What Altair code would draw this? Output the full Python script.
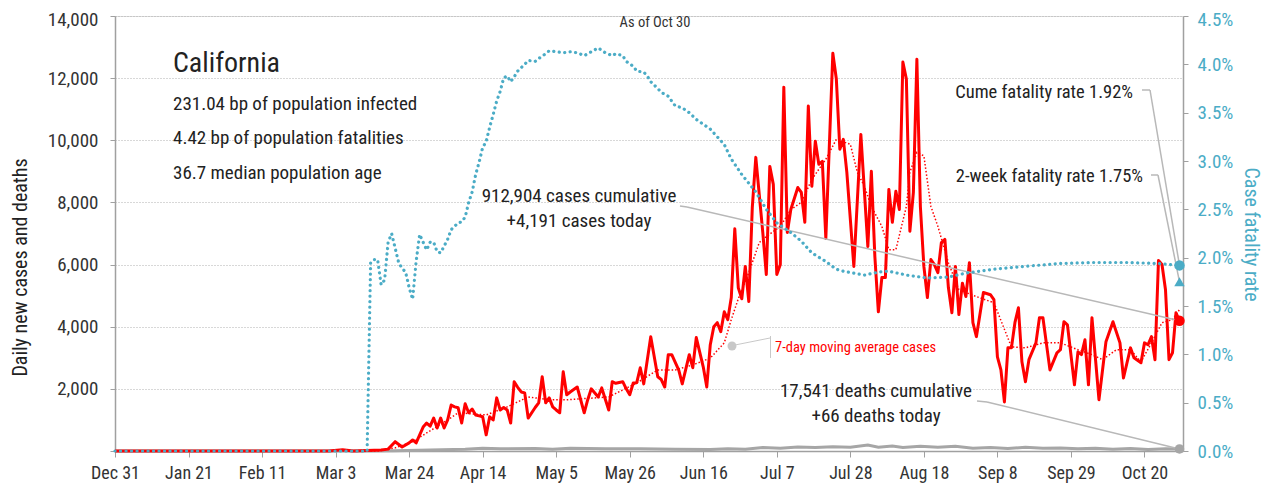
import altair as alt
import pandas as pd

FONT = "Roboto Condensed, Liberation Sans Narrow, DejaVu Sans Condensed, sans-serif"
RED = "#ff0000"
BLUE = "#4bacc6"
GREY = "#a6a6a6"
AXIS_GREY = "#a0a0a0"
INK = "#222222"

# ---------------- data (day = days since Dec 31, 2019) ----------------
tick_labels = ["Dec 31", "Jan 21", "Feb 11", "Mar 3", "Mar 24", "Apr 14", "May 5",
               "May 26", "Jun 16", "Jul 7", "Jul 28", "Aug 18", "Sep 8", "Sep 29", "Oct 20"]
tick_days = [0, 21, 42, 63, 84, 105, 126, 147, 168, 189, 210, 231, 252, 273, 294]
left_ticks = [0, 2000, 4000, 6000, 8000, 10000, 12000, 14000]
right_ticks = [0.0, 0.5, 1.0, 1.5, 2.0, 2.5, 3.0, 3.5, 4.0, 4.5]

case_days = [0, 61, 65, 68, 72, 76, 78, 80, 82, 84, 85, 86, 88, 89, 90, 91, 92, 93, 94, 95,
             96, 97, 98, 99, 100, 101, 102, 103, 104, 105, 106, 107, 108, 109, 110, 111, 112,
             113, 114, 115, 116, 117, 118, 120, 121, 122, 123, 124, 125, 126, 127, 128, 129,
             130, 131, 132, 134, 135, 136, 138, 139, 141, 142, 143, 145, 146, 147, 148, 149,
             150, 151, 153, 155, 156, 157, 158, 159, 161, 162, 164, 165, 166, 168, 169, 170,
             171, 172, 173, 174, 175, 176, 177, 178, 179, 180, 181, 182, 183, 185, 186, 187,
             188, 189, 190, 191, 192, 193, 195, 196, 197, 198, 199, 200, 201, 202, 203, 205,
             206, 207, 208, 209, 211, 213, 215, 216, 217, 218, 219, 220, 221, 222, 223, 224,
             225, 226, 227, 228, 229, 230, 231, 232, 233, 234, 235, 236, 237, 238, 239, 240,
             241, 242, 243, 244, 245, 246, 248, 250, 251, 252, 253, 254, 255, 256, 257, 258,
             259, 260, 261, 263, 264, 265, 267, 269, 270, 271, 272, 274, 275, 276, 277, 278,
             279, 281, 283, 285, 287, 288, 290, 291, 293, 294, 295, 296, 297, 298, 299, 300,
             301, 302, 303, 304]
case_values = [0, 0, 40, 0, 20, 30, 60, 300, 130, 260, 355, 260, 770, 900, 800, 1060, 740, 1060, 740, 1000,
               1480, 1420, 1390, 900, 1520, 1230, 1350, 1160, 1130, 1100, 520, 1100, 1000, 1710, 1320, 1400, 1320,
               900, 2230, 2050, 1900, 1870, 1060, 1400, 1550, 2390, 1550, 1710, 1420, 1320, 1230, 2550, 1810,
               1900, 1980, 2060, 1230, 1650, 2000, 1740, 2030, 1320, 2230, 2180, 2230, 2000, 1810, 2190, 2200,
               2680, 2160, 3680, 2390, 2300, 2060, 3100, 3100, 2600, 2160, 3100, 2680, 3650, 2700, 2060, 3420,
               4000, 4130, 3840, 4480, 4230, 4940, 7150, 5250, 4900, 5940, 4810, 7840, 9450, 7030, 5680, 9160,
               8580, 5680, 6000, 11710, 7030, 7770, 8480, 8320, 7360, 11100, 8520, 9970, 9230, 9320, 6840, 12800,
               11970, 9710, 10030, 8970, 5940, 10190, 6580, 9000, 6260, 4480, 5580, 5580, 8420, 7360, 8360, 7770,
               12520, 11970, 7070, 8320, 12610, 7870, 5940, 4940, 6160, 6000, 5740, 6710, 6810, 5260, 4450, 5940,
               4390, 5400, 4970, 6060, 4130, 3680, 5100, 5030, 4870, 3030, 2610, 1580, 3320, 3320, 4130, 4610,
               2870, 2230, 2940, 3480, 4290, 4290, 2610, 3160, 3260, 4160, 4060, 2130, 3190, 3100, 3580, 2130,
               4290, 1650, 3520, 4160, 3480, 2350, 3320, 3000, 2840, 3480, 3420, 3680, 2940, 6130, 6000, 5190,
               2940, 3160, 4450, 4191]

ma_days = [0, 75, 80, 85, 89, 95, 98, 106, 112, 118, 124, 129, 136, 141, 149, 155, 160, 165, 170, 174,
           176, 178, 181, 184, 186, 190, 193, 196, 199, 203, 206, 210, 212, 214, 216, 219, 221, 223, 226,
           227, 229, 231, 233, 235, 238, 241, 246, 251, 256, 260, 265, 270, 275, 279, 282, 286, 290, 293,
           296, 299, 302, 304]
ma_values = [0, 0, 100, 300, 580, 1000, 1230, 1160, 1420, 1740, 1650, 1650, 1700, 1740, 2190, 2610, 2610,
             2770, 2990, 3480, 4230, 4900, 5740, 6710, 6900, 7230, 7770, 8000, 8740, 9390, 10030, 9870, 8970,
             8520, 7870, 7230, 6480, 6480, 7870, 8970, 9610, 9500, 7870, 7230, 6060, 5190, 4970, 4770, 3350,
             3320, 3480, 3480, 3260, 3100, 2940, 3260, 3260, 2870, 3480, 4130, 4230, 4550]

death_days = [0, 72, 80, 90, 100, 105, 110, 120, 125, 130, 140, 150, 160, 170, 175, 180, 185, 190, 195,
              200, 205, 210, 215, 218, 222, 225, 230, 235, 240, 245, 250, 255, 260, 265, 270, 275, 280,
              285, 290, 295, 300, 304]
death_values = [0, 0, 10, 30, 60, 90, 70, 80, 60, 90, 70, 70, 60, 50, 70, 60, 110, 90, 130, 110, 140, 120,
                190, 120, 160, 110, 150, 120, 150, 90, 110, 80, 120, 90, 100, 70, 90, 60, 80, 50, 70, 66]

rate_days = [0, 72, 73, 74, 75, 76, 77, 78, 79, 80, 81, 82, 83, 84, 85, 86, 87, 88, 89, 90, 91, 92, 93, 94,
             95, 96, 98, 99, 100, 101, 102, 103, 104, 105, 106, 107, 108, 109, 110, 111, 112, 113, 114, 115,
             117, 118, 120, 121, 123, 124, 126, 128, 130, 132, 134, 136, 137, 138, 140, 142, 143, 145, 146,
             148, 149, 151, 152, 153, 155, 156, 158, 159, 160, 162, 164, 166, 170, 174, 176, 179, 183, 186,
             189, 193, 196, 199, 203, 206, 208, 214, 218, 221, 226, 232, 238, 243, 251, 260, 270, 279, 289,
             298, 304]
rate_values = [0.0, 0.0, 1.95, 1.98, 1.98, 1.72, 1.77, 2.16, 2.25, 2.10, 1.95, 1.89, 1.85, 1.69, 1.57, 1.96,
               2.24, 2.16, 2.08, 2.16, 2.16, 2.06, 2.05, 2.12, 2.19, 2.29, 2.36, 2.37, 2.42, 2.57, 2.68, 2.86,
               2.99, 3.14, 3.20, 3.35, 3.48, 3.62, 3.72, 3.86, 3.88, 3.82, 3.87, 3.93, 4.00, 4.04, 4.03, 4.06,
               4.11, 4.14, 4.13, 4.12, 4.13, 4.12, 4.09, 4.13, 4.15, 4.17, 4.12, 4.09, 4.11, 4.09, 4.03, 3.98,
               3.93, 3.92, 3.88, 3.82, 3.75, 3.71, 3.67, 3.62, 3.57, 3.55, 3.50, 3.43, 3.33, 3.17, 3.02, 2.86,
               2.68, 2.50, 2.36, 2.26, 2.17, 2.05, 1.96, 1.88, 1.86, 1.82, 1.85, 1.86, 1.82, 1.79, 1.80, 1.84,
               1.88, 1.91, 1.94, 1.95, 1.95, 1.94, 1.92]

cume_rate = 1.92
twoweek_rate = 1.75
title_lines = ["231.04 bp of population infected", "4.42 bp of population fatalities",
               "36.7 median population age"]

# ---------------- frames ----------------
cases = pd.DataFrame({"day": case_days, "value": case_values})
ma = pd.DataFrame({"day": ma_days, "value": ma_values})
deaths = pd.DataFrame({"day": death_days, "value": death_values})
rate = pd.DataFrame({"day": rate_days, "value": rate_values})
last_case = cases.tail(1)
last_death = deaths.tail(1)
cume_df = pd.DataFrame({"day": [rate_days[-1]], "value": [cume_rate]})
two_df = pd.DataFrame({"day": [rate_days[-1]], "value": [twoweek_rate]})

W, H = 1068, 435

label_arr = "[" + ",".join("'%s'" % t for t in tick_labels) + "]"
x_axis = alt.Axis(values=tick_days, labelExpr=label_arr + "[round(datum.value/21)]", grid=False,
                  labelOverlap=False, labelBound=False, labelFlush=False,
                  domainColor=AXIS_GREY, domainWidth=1.5, tickColor=AXIS_GREY, tickSize=6,
                  labelFont=FONT, labelFontSize=18, labelColor="#333", labelPadding=7)
xs = alt.Scale(domain=[0, 305], nice=False, zero=False)

left_axis = alt.Axis(values=left_ticks, labelExpr="datum.value == 0 ? '' : format(datum.value, ',')",
                     grid=True, gridDash=[1, 2], gridColor="#b0b0b0", gridWidth=1,
                     labelOverlap=False,
                     domainColor=AXIS_GREY, domainWidth=1.5, tickColor=AXIS_GREY, tickSize=5,
                     labelPadding=12, labelFont=FONT, labelFontSize=19, labelColor="#333",
                     labelOffset={"condition": {"test": "datum.value == 14000", "value": 3}, "value": 0},
                     title="Daily new cases and deaths", titleFont=FONT, titleFontSize=20,
                     titleFontWeight="normal", titleColor=INK, titleX=-95, titleY=251,
                     titleAngle=-90, titleAlign="center", titleBaseline="middle")
ls = alt.Scale(domain=[0, 14000], nice=False)

right_axis = alt.Axis(orient="right", values=right_ticks, labelExpr="format(datum.value, '.1f') + '%'",
                      grid=False, labelOverlap=False,
                      domainColor=AXIS_GREY, domainWidth=1.5, tickColor=AXIS_GREY, tickSize=5,
                      labelPadding=9, labelFont=FONT, labelFontSize=19, labelColor=BLUE,
                      labelOffset={"condition": {"test": "datum.value == 4.5", "value": 3}, "value": 0},
                      title="Case fatality rate", titleFont=FONT, titleFontSize=20,
                      titleFontWeight="normal", titleColor=BLUE, titleX=67, titleY=218,
                      titleAngle=90, titleAlign="center", titleBaseline="middle")
rs = alt.Scale(domain=[0, 4.5], nice=False)


def X():
    return alt.X("day:Q", scale=xs, axis=x_axis, title=None)


def YL():
    return alt.Y("value:Q", scale=ls, axis=left_axis)


def YR():
    return alt.Y("value:Q", scale=rs, axis=right_axis)


def note(text, x, y, size=18.5, align="left", color=INK):
    return alt.Chart(pd.DataFrame({"t": [text]})).mark_text(
        align=align, baseline="alphabetic", fontSize=size, font=FONT, color=color
    ).encode(x=alt.value(x), y=alt.value(y), text="t:N")


def seg(x1, y1, x2, y2, color="#b8b8b8", w=1.5):
    return alt.Chart(pd.DataFrame({"k": [0]})).mark_rule(color=color, strokeWidth=w).encode(
        x=alt.value(x1), y=alt.value(y1), x2=alt.value(x2), y2=alt.value(y2))


death_line = alt.Chart(deaths).mark_line(color=GREY, strokeWidth=3).encode(x=X(), y=YL())
ma_line = alt.Chart(ma).mark_line(color=RED, strokeWidth=1.5, strokeDash=[1.5, 2]).encode(x=X(), y=YL())
case_line = alt.Chart(cases).mark_line(color=RED, strokeWidth=3, strokeJoin="round").encode(x=X(), y=YL())

case_conn = alt.Chart(last_case).mark_rule(color="#b8b8b8", strokeWidth=1.5).encode(
    x=X(), y=YL(), x2=alt.value(572), y2=alt.value(191))
death_conn = alt.Chart(last_death).mark_rule(color="#b8b8b8", strokeWidth=1.5).encode(
    x=X(), y=YL(), x2=alt.value(872), y2=alt.value(386))
case_dot = alt.Chart(last_case).mark_circle(color=RED, size=110, opacity=1).encode(x=X(), y=YL())
death_dot = alt.Chart(last_death).mark_circle(color=GREY, size=90, opacity=1).encode(x=X(), y=YL())

ma_pointer = alt.Chart(pd.DataFrame({"k": [0]})).mark_circle(color="#c8c8c8", size=80, opacity=1).encode(
    x=alt.value(617), y=alt.value(330))

left = alt.layer(
    death_line, ma_line, case_line,
    seg(565, 190, 572, 191), case_conn,
    seg(862, 385, 872, 386), death_conn,
    case_dot, death_dot,
    ma_pointer, seg(620, 329, 655, 322, color="#c8c8c8", w=1), seg(655.5, 320, 655.5, 342, color="#c8c8c8", w=1),
    note("7-day moving average cases", 660, 336, size=14.5, color=RED),
    note("California", 58, 56, size=28),
    note(title_lines[0], 58, 94, size=19),
    note(title_lines[1], 58, 128, size=19),
    note(title_lines[2], 58, 163, size=19),
    note("As of Oct 30", 540, 11, size=14.5, align="center", color="#333"),
    note("912,904 cases cumulative", 464, 186, size=19, align="center"),
    note("+4,191 cases today", 464, 211, size=19, align="center"),
    note("17,541 deaths cumulative", 761, 381, size=19, align="center"),
    note("+66 deaths today", 761, 406, size=19, align="center"),
    note("Cume fatality rate 1.92%", 1018, 82, align="right"),
    note("2-week fatality rate 1.75%", 1028, 166, align="right"),
    seg(1027, 74, 1035, 74),
    seg(1036, 159, 1043, 159),
)

rate_line = alt.Chart(rate).mark_line(color=BLUE, strokeWidth=3.2, strokeDash=[0.1, 5.4],
                                      strokeCap="round").encode(x=X(), y=YR())
cume_conn = alt.Chart(cume_df).mark_rule(color="#b8b8b8", strokeWidth=1.5).encode(
    x=X(), y=YR(), x2=alt.value(1035), y2=alt.value(74))
two_conn = alt.Chart(two_df).mark_rule(color="#b8b8b8", strokeWidth=1.5).encode(
    x=X(), y=YR(), x2=alt.value(1043), y2=alt.value(159))
cume_dot = alt.Chart(cume_df).mark_circle(color=BLUE, size=110, opacity=1).encode(x=X(), y=YR())
two_tri = alt.Chart(two_df).mark_point(shape="triangle-up", filled=True, color=BLUE, size=110,
                                       opacity=1).encode(x=X(), y=YR())

right = alt.layer(rate_line, cume_conn, two_conn, cume_dot, two_tri)

chart = alt.layer(left, right).resolve_scale(y="independent").properties(
    width=W, height=H,
    padding={"left": 107, "top": 8, "right": 80, "bottom": 32},
    autosize=alt.AutoSizeParams(type="none"),
).configure_view(stroke=None).configure(background="white")

chart.save("out.html", embed_options={"renderer": "svg", "actions": False})
